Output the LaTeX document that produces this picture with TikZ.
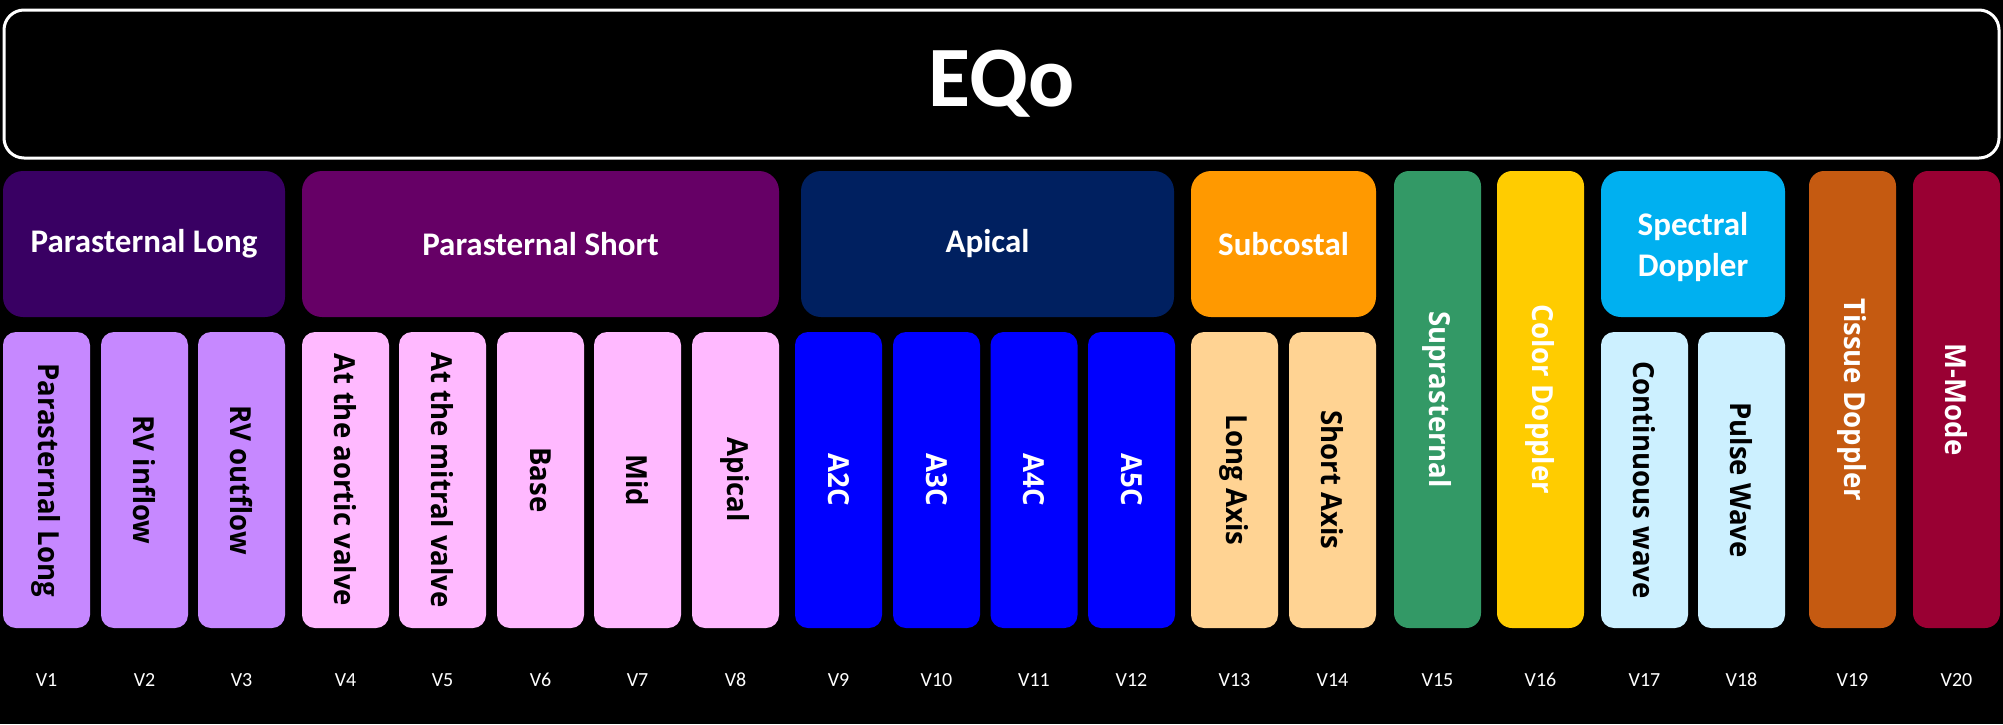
\documentclass[tikz,border=0pt]{standalone}
\usepackage{graphicx}
\usepackage{fontspec}
\setmainfont{Carlito}
\newfontfamily\vfontfam{Open Sans}[FakeStretch=0.95]
\definecolor{plhead}{HTML}{390063}
\definecolor{pshead}{HTML}{660066}
\definecolor{aphead}{HTML}{002060}
\definecolor{schead}{HTML}{FF9900}
\definecolor{supra}{HTML}{339966}
\definecolor{colord}{HTML}{FFCC00}
\definecolor{spec}{HTML}{00B0F0}
\definecolor{tissue}{HTML}{C55A11}
\definecolor{mmode}{HTML}{990033}
\definecolor{plcell}{HTML}{C688FF}
\definecolor{pscell}{HTML}{FFB9FF}
\definecolor{apcell}{HTML}{0000FF}
\definecolor{sccell}{HTML}{FFD393}
\definecolor{spcell}{HTML}{CCF0FF}
\tikzset{
  cell/.style={rounded corners=6.5pt, minimum width=43.5pt, minimum height=148pt, inner sep=0pt,
    font=\vfontfam\bfseries\fontsize{14.5}{17}\selectfont},
  tall/.style={cell, minimum height=228.5pt, rounded corners=7.5pt},
  cat/.style={rounded corners=10pt, minimum height=73pt, inner sep=0pt, text=white,
    font=\bfseries\fontsize{16.5}{20.5}\selectfont, align=center},
  vlabel/.style={text=white, font=\fontsize{10}{12}\selectfont},
}
\newcommand\rot[1]{\rotatebox{-90}{#1}}
\begin{document}
\begin{tikzpicture}[x=0.5pt,y=-0.5pt]
\fill[black] (0,0) rectangle (2003,724);
\useasboundingbox (0,0) rectangle (2003,724);
% title
\node[draw=white, line width=1.5pt, fill=black, rounded corners=10pt, minimum width=997.5pt, minimum height=74pt, inner sep=0pt,
  text=white, font=\bfseries\fontsize{43}{50}\selectfont] (title) at (1001.5,84) {EQo};
% category headers
\node[cat, fill=plhead, minimum width=141pt] (pl) at (144,244) {Parasternal Long};
\node[cat, fill=pshead, minimum width=238.5pt] (ps) at (540.5,244) {Parasternal Short};
\node[cat, fill=aphead, minimum width=186.5pt] (ap) at (987.5,244) {Apical};
\node[cat, fill=schead, minimum width=92.5pt] (sc) at (1283.5,244) {Subcostal};
\node[cat, fill=spec, minimum width=92pt, text depth=0pt] (sp) at (1693,244) {Spectral\\Doppler};
% cells
\node[cell, fill=plcell] (c1) at (46.5,480) {\rot{Parasternal Long}};
\node[cell, fill=plcell] (c2) at (144.5,480) {\rot{RV inflow}};
\node[cell, fill=plcell] (c3) at (241.5,480) {\rot{RV outflow}};
\node[cell, fill=pscell] (c4) at (345.5,480) {\rot{At the aortic valve}};
\node[cell, fill=pscell] (c5) at (442.5,480) {\rot{At the mitral valve}};
\node[cell, fill=pscell] (c6) at (540.5,480) {\rot{Base}};
\node[cell, fill=pscell] (c7) at (637.5,480) {\rot{Mid}};
\node[cell, fill=pscell] (c8) at (735.5,480) {\rot{Apical}};
\node[cell, fill=apcell, text=white] (c9) at (838.5,480) {\rot{A2C}};
\node[cell, fill=apcell, text=white] (c10) at (936.5,480) {\rot{A3C}};
\node[cell, fill=apcell, text=white] (c11) at (1034,480) {\rot{A4C}};
\node[cell, fill=apcell, text=white] (c12) at (1131.5,480) {\rot{A5C}};
\node[cell, fill=sccell] (c13) at (1234.5,480) {\rot{Long Axis}};
\node[cell, fill=sccell] (c14) at (1332.5,480) {\rot{Short Axis}};
\node[tall, fill=supra, text=white] (c15) at (1437.5,399.5) {\rot{Suprasternal}};
\node[tall, fill=colord, text=white] (c16) at (1540.5,399.5) {\rot{Color Doppler}};
\node[cell, fill=spcell] (c17) at (1644.5,480) {\rot{Continuous wave}};
\node[cell, fill=spcell] (c18) at (1741.5,480) {\rot{Pulse Wave}};
\node[tall, fill=tissue, text=white] (c19) at (1852.5,399.5) {\rot{Tissue Doppler}};
\node[tall, fill=mmode, text=white] (c20) at (1956.5,399.5) {\rot{M-Mode}};
% labels
\node[vlabel] (l1) at (46.5,680) {V1};
\node[vlabel] (l2) at (144.5,680) {V2};
\node[vlabel] (l3) at (241.5,680) {V3};
\node[vlabel] (l4) at (345.5,680) {V4};
\node[vlabel] (l5) at (442.5,680) {V5};
\node[vlabel] (l6) at (540.5,680) {V6};
\node[vlabel] (l7) at (637.5,680) {V7};
\node[vlabel] (l8) at (735.5,680) {V8};
\node[vlabel] (l9) at (838.5,680) {V9};
\node[vlabel] (l10) at (936.5,680) {V10};
\node[vlabel] (l11) at (1034,680) {V11};
\node[vlabel] (l12) at (1131.5,680) {V12};
\node[vlabel] (l13) at (1234.5,680) {V13};
\node[vlabel] (l14) at (1332.5,680) {V14};
\node[vlabel] (l15) at (1437.5,680) {V15};
\node[vlabel] (l16) at (1540.5,680) {V16};
\node[vlabel] (l17) at (1644.5,680) {V17};
\node[vlabel] (l18) at (1741.5,680) {V18};
\node[vlabel] (l19) at (1852.5,680) {V19};
\node[vlabel] (l20) at (1956.5,680) {V20};
\end{tikzpicture}
\end{document}
